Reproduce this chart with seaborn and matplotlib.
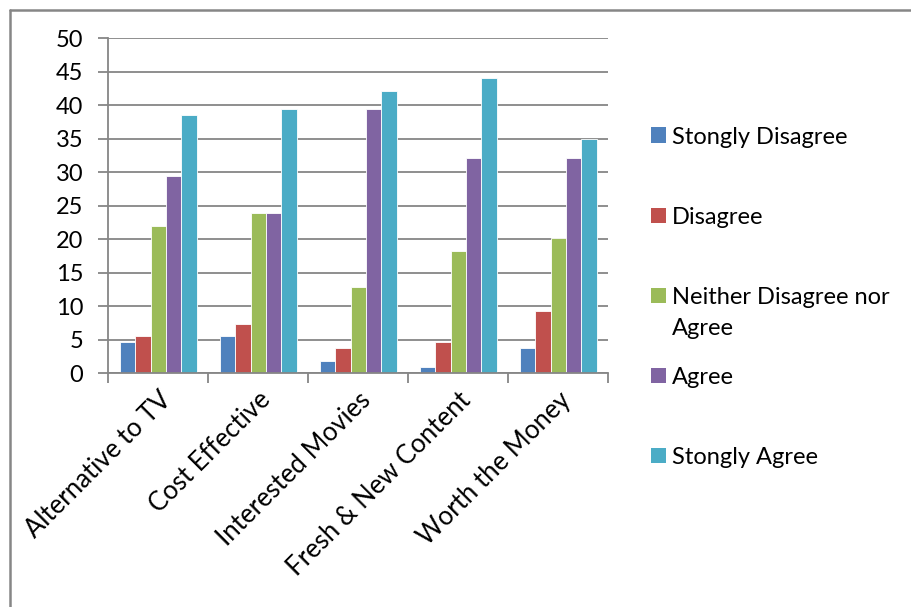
import matplotlib
matplotlib.use("Agg")
import matplotlib.pyplot as plt
from matplotlib.lines import Line2D
from matplotlib.patches import Rectangle
import seaborn as sns
import pandas as pd
import numpy as np

categories = ["Alternative to TV", "Cost Effective", "Interested Movies",
              "Fresh & New Content", "Worth the Money"]
series_names = ["Stongly Disagree", "Disagree", "Neither Disagree nor\nAgree",
                "Agree", "Stongly Agree"]
strongly_disagree = [4.6, 5.6, 1.9, 0.9, 3.8]
disagree = [5.6, 7.4, 3.8, 4.6, 9.3]
neither = [22.0, 24.0, 12.9, 18.3, 20.2]
agree = [29.5, 24.0, 39.4, 32.2, 32.2]
strongly_agree = [38.6, 39.4, 42.2, 44.0, 35.0]
y_ticks = [0, 5, 10, 15, 20, 25, 30, 35, 40, 45, 50]
colors = ["#4F81BD", "#C0504D", "#9BBB59", "#8064A2", "#4BACC6"]

values = [strongly_disagree, disagree, neither, agree, strongly_agree]
rows = []
for name, vals in zip(series_names, values):
    for c, v in zip(categories, vals):
        rows.append({"Category": c, "Series": name, "Value": v})
df = pd.DataFrame(rows)

sns.set_theme(style="white")
plt.rcParams["font.family"] = ["Lato", "DejaVu Sans"]

W, H = 911, 607
fig = plt.figure(figsize=(W / 100, H / 100), dpi=100)
ax = fig.add_axes([108.3 / W, 1 - 373.3 / H, 500 / W, 335 / H])

sns.barplot(data=df, x="Category", y="Value", hue="Series",
            order=categories, hue_order=series_names, palette=colors,
            width=0.767, ax=ax, edgecolor="white", linewidth=0.6,
            saturation=1, errorbar=None, legend=False)

grid_c = "#868686"
ax.set_ylim(0, 50)
ax.set_xlim(-0.5, 4.5)
ax.set_yticks(y_ticks)
ax.set_yticklabels([str(t) for t in y_ticks], fontsize=17, color="black")
ax.yaxis.grid(True, color=grid_c, linewidth=1.3)
ax.set_axisbelow(True)
ax.tick_params(axis="y", length=7, width=1.3, color=grid_c, pad=11, left=True)
ax.set_xticks(range(len(categories)))
ax.set_xticklabels(categories, rotation=45, ha="right", rotation_mode="anchor",
                   fontsize=18.5, color="black")
ax.tick_params(axis="x", length=0, pad=10)
ax.set_xticks(np.arange(-0.5, 5, 1.0), minor=True)
ax.tick_params(axis="x", which="minor", length=7, width=1.3, color=grid_c,
               bottom=True)
ax.set_xlabel("")
ax.set_ylabel("")
for s in ["top", "right"]:
    ax.spines[s].set_visible(False)
for s in ["left", "bottom"]:
    ax.spines[s].set_color(grid_c)
    ax.spines[s].set_linewidth(1.3)

# legend (Excel-style: entries at fixed intervals)
legend_centers = [135, 215, 295, 375, 455]
for name, col, yc in zip(series_names, colors, legend_centers):
    fig.add_artist(Rectangle((651 / W, 1 - (yc + 7.5) / H), 15 / W, 15 / H,
                             transform=fig.transFigure, facecolor=col,
                             edgecolor="none"))
    fig.text(672 / W, 1 - (yc - 8) / H, name, fontsize=17, color="black",
             ha="left", va="top", linespacing=1.6)

# outer chart border
fig.add_artist(Line2D([10 / W, 1.0], [1 - 9.5 / H, 1 - 9.5 / H],
                      transform=fig.transFigure, color=grid_c, linewidth=1.8))
fig.add_artist(Line2D([10 / W, 10 / W], [0.0, 1 - 9.5 / H],
                      transform=fig.transFigure, color=grid_c, linewidth=1.8))

fig.savefig("out.png", dpi=100)
